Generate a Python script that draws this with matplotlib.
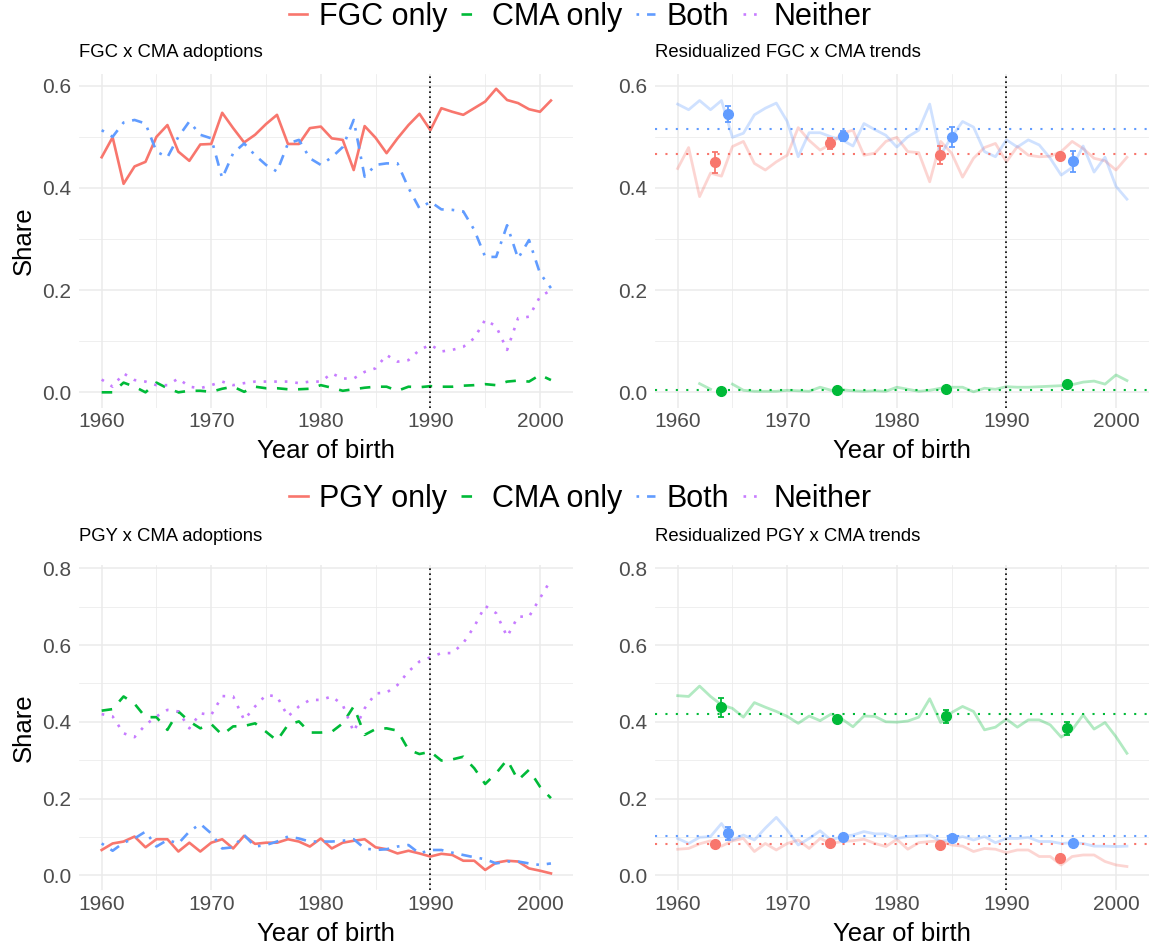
import matplotlib
matplotlib.use('Agg')
import matplotlib.pyplot as plt
from matplotlib.ticker import MultipleLocator, FormatStrFormatter

plt.rcParams['font.family'] = ['Liberation Sans', 'DejaVu Sans']

years = list(range(1960, 2002))
nan = float('nan')

# --- FGC x CMA adoptions (raw shares) ---
fgc_only = [0.460, 0.499, 0.408, 0.442, 0.451, 0.500, 0.523, 0.471, 0.453, 0.485,
            0.486, 0.547, 0.517, 0.489, 0.504, 0.525, 0.543, 0.486, 0.486, 0.517,
            0.520, 0.497, 0.494, 0.435, 0.521, 0.498, 0.468, 0.497, 0.523, 0.545,
            0.513, 0.556, 0.549, 0.543, 0.556, 0.569, 0.594, 0.572, 0.566, 0.554,
            0.549, 0.571]
fgc_cma_only = [0.000, 0.000, 0.019, 0.011, 0.000, 0.019, 0.008, 0.000, 0.003, 0.003,
                0.001, 0.007, 0.011, 0.001, 0.011, 0.008, 0.008, 0.006, 0.006, 0.007,
                0.014, 0.009, 0.003, 0.006, 0.009, 0.011, 0.011, 0.003, 0.011, 0.010,
                0.012, 0.011, 0.011, 0.013, 0.014, 0.016, 0.014, 0.021, 0.023, 0.021,
                0.034, 0.024]
fgc_both = [0.513, 0.500, 0.528, 0.533, 0.526, 0.471, 0.460, 0.500, 0.530, 0.504,
            0.497, 0.419, 0.468, 0.487, 0.464, 0.445, 0.432, 0.487, 0.494, 0.458,
            0.445, 0.460, 0.480, 0.533, 0.422, 0.445, 0.448, 0.448, 0.400, 0.360,
            0.373, 0.358, 0.357, 0.354, 0.318, 0.265, 0.265, 0.327, 0.262, 0.298,
            0.233, 0.204]
fgc_neither = [0.025, 0.011, 0.037, 0.024, 0.021, 0.014, 0.014, 0.027, 0.011, 0.008,
               0.014, 0.021, 0.014, 0.018, 0.021, 0.021, 0.021, 0.021, 0.018, 0.021,
               0.021, 0.037, 0.027, 0.027, 0.040, 0.047, 0.073, 0.060, 0.063, 0.083,
               0.093, 0.080, 0.083, 0.089, 0.106, 0.142, 0.129, 0.083, 0.145, 0.148,
               0.187, 0.200]

# --- Residualized FGC x CMA trends ---
res_fgc_only = [0.438, 0.479, 0.383, 0.429, 0.423, 0.481, 0.491, 0.448, 0.435, 0.451,
                0.464, 0.518, 0.493, 0.474, 0.486, 0.507, 0.513, 0.464, 0.468, 0.491,
                0.499, 0.471, 0.469, 0.412, 0.491, 0.468, 0.421, 0.458, 0.479, 0.487,
                0.451, 0.481, 0.464, 0.461, 0.462, 0.471, 0.491, 0.477, 0.458, 0.453,
                0.435, 0.460]
res_fgc_cma_only = [nan, nan, 0.017, 0.006, nan, 0.016, 0.004, 0.002, 0.002, 0.002,
                    0.004, 0.003, 0.002, 0.010, 0.004, 0.005, 0.003, 0.002, 0.003, 0.002,
                    0.010, 0.006, 0.002, 0.004, 0.008, 0.010, 0.010, 0.001, 0.008, 0.006,
                    0.011, 0.010, 0.010, 0.011, 0.012, 0.013, 0.015, 0.020, 0.022, 0.016,
                    0.034, 0.023]
res_fgc_both = [0.564, 0.553, 0.571, 0.553, 0.571, 0.499, 0.507, 0.543, 0.556, 0.566,
                0.530, 0.461, 0.508, 0.508, 0.500, 0.494, 0.482, 0.526, 0.514, 0.503,
                0.480, 0.500, 0.513, 0.564, 0.465, 0.500, 0.530, 0.519, 0.471, 0.461,
                0.494, 0.480, 0.494, 0.484, 0.458, 0.425, 0.440, 0.482, 0.431, 0.460,
                0.403, 0.378]
fgc_means = {'only': 0.466, 'cma': 0.004, 'both': 0.516}

# binned estimates (bin centre, estimate, +/- error)
bin_centres = [1964.0, 1974.5, 1984.5, 1995.5]
fgc_bin_only = [0.450, 0.487, 0.464, 0.462]
fgc_bin_only_err = [0.021, 0.010, 0.018, 0.004]
fgc_bin_cma = [0.002, 0.004, 0.007, 0.016]
fgc_bin_cma_err = [0.002, 0.002, 0.002, 0.003]
fgc_bin_both = [0.545, 0.502, 0.500, 0.452]
fgc_bin_both_err = [0.016, 0.010, 0.020, 0.021]

# --- PGY x CMA adoptions (raw shares) ---
pgy_only = [0.066, 0.083, 0.088, 0.101, 0.073, 0.094, 0.094, 0.062, 0.085, 0.062,
            0.085, 0.094, 0.070, 0.103, 0.082, 0.085, 0.085, 0.094, 0.088, 0.075,
            0.096, 0.070, 0.085, 0.090, 0.094, 0.073, 0.068, 0.057, 0.064, 0.057,
            0.049, 0.056, 0.053, 0.038, 0.038, 0.014, 0.033, 0.038, 0.036, 0.018,
            0.012, 0.005]
pgy_cma_only = [0.429, 0.433, 0.466, 0.447, 0.412, 0.412, 0.379, 0.427, 0.401, 0.383,
                0.394, 0.366, 0.388, 0.389, 0.396, 0.374, 0.351, 0.392, 0.401, 0.372,
                0.372, 0.374, 0.396, 0.440, 0.366, 0.381, 0.383, 0.377, 0.327, 0.316,
                0.322, 0.299, 0.302, 0.309, 0.279, 0.238, 0.266, 0.301, 0.248, 0.275,
                0.231, 0.201]
pgy_both = [0.083, 0.064, 0.085, 0.096, 0.114, 0.075, 0.092, 0.083, 0.114, 0.134,
            0.109, 0.070, 0.073, 0.105, 0.075, 0.079, 0.088, 0.101, 0.096, 0.088,
            0.088, 0.088, 0.090, 0.094, 0.070, 0.066, 0.068, 0.075, 0.079, 0.057,
            0.066, 0.066, 0.059, 0.053, 0.047, 0.042, 0.031, 0.036, 0.036, 0.031,
            0.027, 0.031]
pgy_neither = [0.420, 0.414, 0.370, 0.360, 0.392, 0.414, 0.431, 0.427, 0.383, 0.422,
               0.418, 0.467, 0.466, 0.405, 0.440, 0.470, 0.466, 0.414, 0.440, 0.457,
               0.457, 0.466, 0.444, 0.374, 0.435, 0.474, 0.476, 0.496, 0.531, 0.557,
               0.568, 0.579, 0.579, 0.605, 0.648, 0.702, 0.683, 0.622, 0.674, 0.674,
               0.722, 0.770]

# --- Residualized PGY x CMA trends ---
res_pgy_only = [0.068, 0.070, 0.082, 0.090, 0.076, 0.090, 0.096, 0.062, 0.083, 0.066,
                0.083, 0.092, 0.070, 0.096, 0.083, 0.088, 0.090, 0.094, 0.083, 0.075,
                0.094, 0.068, 0.085, 0.088, 0.090, 0.079, 0.076, 0.062, 0.070, 0.068,
                0.059, 0.066, 0.066, 0.049, 0.049, 0.027, 0.049, 0.053, 0.053, 0.036,
                0.027, 0.023]
res_pgy_cma_only = [0.468, 0.466, 0.493, 0.466, 0.444, 0.435, 0.412, 0.450, 0.438, 0.427,
                    0.414, 0.396, 0.415, 0.403, 0.420, 0.407, 0.387, 0.415, 0.414, 0.400,
                    0.399, 0.402, 0.412, 0.460, 0.398, 0.424, 0.440, 0.427, 0.379, 0.386,
                    0.407, 0.386, 0.405, 0.405, 0.392, 0.360, 0.379, 0.418, 0.381, 0.398,
                    0.361, 0.318]
res_pgy_both = [0.096, 0.083, 0.099, 0.101, 0.135, 0.092, 0.105, 0.092, 0.123, 0.151,
                0.118, 0.079, 0.096, 0.116, 0.092, 0.101, 0.105, 0.114, 0.108, 0.108,
                0.096, 0.101, 0.103, 0.105, 0.088, 0.094, 0.101, 0.092, 0.101, 0.085,
                0.096, 0.096, 0.099, 0.088, 0.088, 0.083, 0.085, 0.083, 0.076, 0.076,
                0.075, 0.076]
pgy_means = {'only': 0.082, 'cma': 0.420, 'both': 0.103}

pgy_bin_only = [0.082, 0.085, 0.078, 0.046]
pgy_bin_only_err = [0.004, 0.004, 0.004, 0.005]
pgy_bin_cma = [0.438, 0.407, 0.414, 0.383]
pgy_bin_cma_err = [0.025, 0.006, 0.016, 0.017]
pgy_bin_both = [0.109, 0.101, 0.096, 0.085]
pgy_bin_both_err = [0.016, 0.004, 0.005, 0.005]

RED = '#F8766D'
GREEN = '#00BA38'
BLUE = '#619CFF'
PURPLE = '#C77CFF'

LINE_STYLES = {
    'only': dict(color=RED, linestyle='-'),
    'cma': dict(color=GREEN, dashes=(4, 4)),
    'both': dict(color=BLUE, dashes=(1, 3, 4, 3)),
    'neither': dict(color=PURPLE, dashes=(1, 3)),
}
COLORS = {'only': RED, 'cma': GREEN, 'both': BLUE}
DODGE = {'only': -0.58, 'cma': 0.0, 'both': 0.58}

W, H = 1153, 949


def add_panel(left, top, bottom):
    # pixel box -> figure fraction
    ax = fig.add_axes([left / W, 1 - bottom / H, 494.2 / W, (bottom - top) / H])
    return ax


def style_axes(ax, ylim, title, title_pad, ylabel=None):
    ax.set_xlim(1957.95, 2003.05)
    ax.set_ylim(*ylim)
    ax.xaxis.set_major_locator(MultipleLocator(10))
    ax.xaxis.set_minor_locator(MultipleLocator(5))
    ax.yaxis.set_major_locator(MultipleLocator(0.2))
    ax.yaxis.set_minor_locator(MultipleLocator(0.1))
    ax.yaxis.set_major_formatter(FormatStrFormatter('%.1f'))
    ax.grid(True, which='major', color='#EBEBEB', lw=1.1)
    ax.grid(True, which='minor', color='#EBEBEB', lw=0.55)
    ax.set_axisbelow(True)
    for s in ax.spines.values():
        s.set_visible(False)
    ax.tick_params(which='both', length=0, labelsize=15, labelcolor='#4D4D4D')
    ax.tick_params(axis='x', pad=3.5)
    ax.tick_params(axis='y', pad=5.5)
    ax.axvline(1990, color='black', lw=1.2, dashes=(1, 2))
    ax.set_xlabel('Year of birth', fontsize=18.5, labelpad=5.5)
    if ylabel:
        ax.set_ylabel(ylabel, fontsize=18.5, labelpad=5)
    ax.set_title(title, loc='left', fontsize=13.3, pad=title_pad)


def raw_panel(ax, series, labels):
    handles = []
    for key, vals, lab in zip(['only', 'cma', 'both', 'neither'], series, labels):
        ln, = ax.plot(years, vals, lw=1.9, label=lab, **LINE_STYLES[key])
        handles.append(ln)
    return handles


def resid_panel(ax, series, means, bins):
    for key, vals in zip(['only', 'cma', 'both'], series):
        ax.plot(years, vals, color=COLORS[key], lw=2.0, alpha=0.3)
    for key in ['only', 'cma', 'both']:
        ax.axhline(means[key], color=COLORS[key], lw=1.5, dashes=(1, 4))
    for key, (vals, errs) in zip(['only', 'cma', 'both'], bins):
        xs = [b + DODGE[key] for b in bin_centres]
        ax.errorbar(xs, vals, yerr=errs, fmt='o', color=COLORS[key], ms=7,
                    elinewidth=1.3, capsize=2.2, capthick=1.3, zorder=5)


fig = plt.figure(figsize=(W / 100, H / 100), dpi=100)

top_ylim = (-0.0297, 0.6237)
bot_ylim = (-0.0385, 0.8085)

ax1 = add_panel(79.2, 73.6, 407.5)
h1 = raw_panel(ax1, [fgc_only, fgc_cma_only, fgc_both, fgc_neither],
               ['FGC only', 'CMA only', 'Both', 'Neither'])
style_axes(ax1, top_ylim, 'FGC x CMA adoptions', 12, 'Share')

ax2 = add_panel(655.2, 73.6, 407.5)
resid_panel(ax2, [res_fgc_only, res_fgc_cma_only, res_fgc_both], fgc_means,
            [(fgc_bin_only, fgc_bin_only_err), (fgc_bin_cma, fgc_bin_cma_err),
             (fgc_bin_both, fgc_bin_both_err)])
style_axes(ax2, top_ylim, 'Residualized FGC x CMA trends', 12)

ax3 = add_panel(79.2, 565.0, 890.1)
h3 = raw_panel(ax3, [pgy_only, pgy_cma_only, pgy_both, pgy_neither],
               ['PGY only', 'CMA only', 'Both', 'Neither'])
style_axes(ax3, bot_ylim, 'PGY x CMA adoptions', 17.5, 'Share')

ax4 = add_panel(655.2, 565.0, 890.1)
resid_panel(ax4, [res_pgy_only, res_pgy_cma_only, res_pgy_both], pgy_means,
            [(pgy_bin_only, pgy_bin_only_err), (pgy_bin_cma, pgy_bin_cma_err),
             (pgy_bin_both, pgy_bin_both_err)])
style_axes(ax4, bot_ylim, 'Residualized PGY x CMA trends', 17.5)

for handles, ycen in [(h1, 17), (h3, 499)]:
    fig.legend(handles=handles, loc='center', bbox_to_anchor=(0.503, 1 - ycen / H),
               ncol=4, frameon=False, fontsize=22, handlelength=0.62,
               handletextpad=0.38, columnspacing=0.45, borderpad=0, borderaxespad=0)

fig.savefig('out.png', dpi=100, facecolor='white')
